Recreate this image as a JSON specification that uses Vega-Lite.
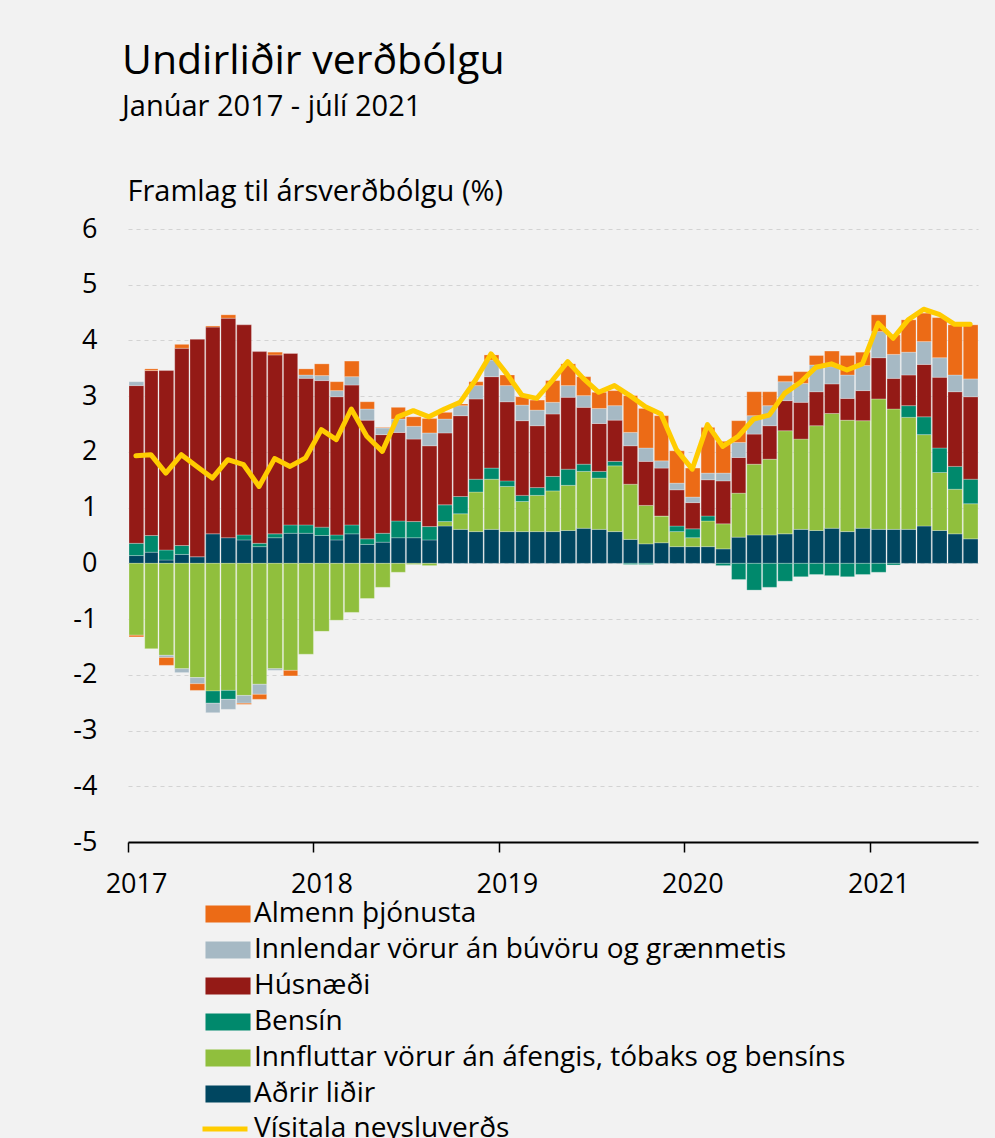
{
"$schema": "https://vega.github.io/schema/vega-lite/v6.json",
"autosize": "none",
"width": 850,
"height": 613,
"padding": {"left": 128, "top": 229, "right": 17, "bottom": 296},
"background": "#f2f2f2",
"config": {"font": "Open Sans", "view": {"stroke": null}},
"title": {"text": "Undirliðir verðbólgu", "subtitle": "Janúar 2017 - júlí 2021", "anchor": "start", "frame": "group", "dx": -6, "fontSize": 41, "fontWeight": "normal", "color": "#000000", "subtitleFontSize": 29, "subtitleColor": "#000000", "subtitlePadding": 10, "offset": 54, "font": "Open Sans", "subtitleFont": "Open Sans"},
"data": {"values": [
{"d":"2017-01-01","c1":0.14,"c2":-1.29,"c3":0.22,"c4":2.83,"c5":0.07,"c6":-0.03,"v":1.93},
{"d":"2017-02-01","c1":0.20,"c2":-1.53,"c3":0.30,"c4":2.96,"c5":0,"c6":0.03,"v":1.95},
{"d":"2017-03-01","c1":0.06,"c2":-1.65,"c3":0.18,"c4":3.22,"c5":-0.04,"c6":-0.14,"v":1.62},
{"d":"2017-04-01","c1":0.16,"c2":-1.89,"c3":0.16,"c4":3.54,"c5":-0.07,"c6":0.07,"v":1.95},
{"d":"2017-05-01","c1":0.12,"c2":-2.05,"c3":0,"c4":3.90,"c5":-0.11,"c6":-0.12,"v":1.74},
{"d":"2017-06-01","c1":0.53,"c2":-2.29,"c3":-0.22,"c4":3.71,"c5":-0.17,"c6":0.02,"v":1.53},
{"d":"2017-07-01","c1":0.46,"c2":-2.28,"c3":-0.16,"c4":3.94,"c5":-0.18,"c6":0.06,"v":1.86},
{"d":"2017-08-01","c1":0.42,"c2":-2.37,"c3":0.09,"c4":3.77,"c5":-0.14,"c6":-0.02,"v":1.77},
{"d":"2017-09-01","c1":0.30,"c2":-2.17,"c3":0.06,"c4":3.44,"c5":-0.18,"c6":-0.09,"v":1.38},
{"d":"2017-10-01","c1":0.46,"c2":-1.89,"c3":0.07,"c4":3.21,"c5":-0.03,"c6":0.05,"v":1.88},
{"d":"2017-11-01","c1":0.54,"c2":-1.92,"c3":0.15,"c4":3.08,"c5":0,"c6":-0.10,"v":1.74},
{"d":"2017-12-01","c1":0.54,"c2":-1.63,"c3":0.15,"c4":2.63,"c5":0.06,"c6":0.11,"v":1.89},
{"d":"2018-01-01","c1":0.50,"c2":-1.22,"c3":0.15,"c4":2.63,"c5":0.09,"c6":0.21,"v":2.40},
{"d":"2018-02-01","c1":0.42,"c2":-1.02,"c3":0.09,"c4":2.48,"c5":0.11,"c6":0.16,"v":2.22},
{"d":"2018-03-01","c1":0.53,"c2":-0.88,"c3":0.16,"c4":2.51,"c5":0.15,"c6":0.28,"v":2.77},
{"d":"2018-04-01","c1":0.34,"c2":-0.63,"c3":0.10,"c4":2.13,"c5":0.20,"c6":0.13,"v":2.28},
{"d":"2018-05-01","c1":0.38,"c2":-0.43,"c3":0.16,"c4":1.77,"c5":0.12,"c6":0.01,"v":2.01},
{"d":"2018-06-01","c1":0.46,"c2":-0.16,"c3":0.30,"c4":1.59,"c5":0.24,"c6":0.21,"v":2.63},
{"d":"2018-07-01","c1":0.46,"c2":-0.02,"c3":0.29,"c4":1.48,"c5":0.23,"c6":0.17,"v":2.74},
{"d":"2018-08-01","c1":0.42,"c2":-0.04,"c3":0.24,"c4":1.45,"c5":0.23,"c6":0.26,"v":2.63},
{"d":"2018-09-01","c1":0.67,"c2":0.08,"c3":0.30,"c4":1.29,"c5":0.25,"c6":0.12,"v":2.77},
{"d":"2018-10-01","c1":0.61,"c2":0.28,"c3":0.31,"c4":1.45,"c5":0.18,"c6":0.03,"v":2.89},
{"d":"2018-11-01","c1":0.57,"c2":0.71,"c3":0.23,"c4":1.44,"c5":0.24,"c6":0.07,"v":3.29},
{"d":"2018-12-01","c1":0.61,"c2":0.90,"c3":0.20,"c4":1.64,"c5":0.30,"c6":0.09,"v":3.76},
{"d":"2019-01-01","c1":0.57,"c2":0.81,"c3":0.10,"c4":1.42,"c5":0.29,"c6":0.19,"v":3.40},
{"d":"2019-02-01","c1":0.57,"c2":0.54,"c3":0.11,"c4":1.34,"c5":0.28,"c6":0.15,"v":3.02},
{"d":"2019-03-01","c1":0.57,"c2":0.65,"c3":0.14,"c4":1.11,"c5":0.28,"c6":0.18,"v":2.96},
{"d":"2019-04-01","c1":0.57,"c2":0.73,"c3":0.26,"c4":1.12,"c5":0.21,"c6":0.39,"v":3.28},
{"d":"2019-05-01","c1":0.59,"c2":0.81,"c3":0.29,"c4":1.29,"c5":0.21,"c6":0.39,"v":3.62},
{"d":"2019-06-01","c1":0.63,"c2":1.02,"c3":0.13,"c4":1.02,"c5":0.21,"c6":0.34,"v":3.32},
{"d":"2019-07-01","c1":0.61,"c2":0.92,"c3":0.12,"c4":0.86,"c5":0.27,"c6":0.29,"v":3.07},
{"d":"2019-08-01","c1":0.57,"c2":1.18,"c3":0.08,"c4":0.74,"c5":0.26,"c6":0.27,"v":3.19},
{"d":"2019-09-01","c1":0.43,"c2":0.99,"c3":-0.02,"c4":0.69,"c5":0.24,"c6":0.66,"v":3.01},
{"d":"2019-10-01","c1":0.35,"c2":0.69,"c3":-0.02,"c4":0.79,"c5":0.24,"c6":0.71,"v":2.81},
{"d":"2019-11-01","c1":0.37,"c2":0.48,"c3":0,"c4":0.86,"c5":0.13,"c6":0.81,"v":2.68},
{"d":"2019-12-01","c1":0.30,"c2":0.27,"c3":0.10,"c4":0.65,"c5":0.12,"c6":0.58,"v":2.04},
{"d":"2020-01-01","c1":0.30,"c2":0.16,"c3":0.16,"c4":0.47,"c5":0.10,"c6":0.52,"v":1.69},
{"d":"2020-02-01","c1":0.30,"c2":0.46,"c3":0.09,"c4":0.65,"c5":0.12,"c6":0.82,"v":2.49},
{"d":"2020-03-01","c1":0.26,"c2":0.45,"c3":-0.04,"c4":0.77,"c5":0.14,"c6":0.57,"v":2.10},
{"d":"2020-04-01","c1":0.47,"c2":0.79,"c3":-0.29,"c4":0.64,"c5":0.27,"c6":0.39,"v":2.28},
{"d":"2020-05-01","c1":0.51,"c2":1.27,"c3":-0.48,"c4":0.54,"c5":0.33,"c6":0.43,"v":2.59},
{"d":"2020-06-01","c1":0.51,"c2":1.36,"c3":-0.43,"c4":0.60,"c5":0.36,"c6":0.25,"v":2.66},
{"d":"2020-07-01","c1":0.53,"c2":1.85,"c3":-0.32,"c4":0.54,"c5":0.34,"c6":0.11,"v":3.05},
{"d":"2020-08-01","c1":0.61,"c2":1.62,"c3":-0.24,"c4":0.66,"c5":0.34,"c6":0.21,"v":3.25},
{"d":"2020-09-01","c1":0.59,"c2":1.88,"c3":-0.20,"c4":0.61,"c5":0.48,"c6":0.17,"v":3.52},
{"d":"2020-10-01","c1":0.63,"c2":2.06,"c3":-0.22,"c4":0.53,"c5":0.31,"c6":0.28,"v":3.58},
{"d":"2020-11-01","c1":0.57,"c2":2.00,"c3":-0.24,"c4":0.39,"c5":0.42,"c6":0.35,"v":3.47},
{"d":"2020-12-01","c1":0.63,"c2":1.93,"c3":-0.20,"c4":0.54,"c5":0.45,"c6":0.24,"v":3.58},
{"d":"2021-01-01","c1":0.61,"c2":2.34,"c3":-0.16,"c4":0.74,"c5":0.47,"c6":0.30,"v":4.31},
{"d":"2021-02-01","c1":0.61,"c2":2.16,"c3":-0.03,"c4":0.55,"c5":0.43,"c6":0.35,"v":4.04},
{"d":"2021-03-01","c1":0.61,"c2":2.01,"c3":0.21,"c4":0.55,"c5":0.41,"c6":0.58,"v":4.37},
{"d":"2021-04-01","c1":0.67,"c2":1.64,"c3":0.32,"c4":0.94,"c5":0.41,"c6":0.51,"v":4.56},
{"d":"2021-05-01","c1":0.59,"c2":1.04,"c3":0.44,"c4":1.27,"c5":0.35,"c6":0.72,"v":4.47},
{"d":"2021-06-01","c1":0.53,"c2":0.80,"c3":0.41,"c4":1.34,"c5":0.30,"c6":0.90,"v":4.29},
{"d":"2021-07-01","c1":0.44,"c2":0.63,"c3":0.44,"c4":1.48,"c5":0.32,"c6":0.97,"v":4.29}
]},
"layer": [
{
"transform": [{"fold": ["c1","c2","c3","c4","c5","c6"], "as": ["key","val"]}],
"mark": {"type": "bar", "timeUnitBandSize": 0.8, "stroke": "#ffffff", "strokeWidth": 0.5, "strokeOpacity": 0.5},
"encoding": {
"x": {"field": "d", "timeUnit": "utcyearmonth", "type": "temporal",
 "scale": {"domain": [{"year": 2017, "month": 1, "date": 1, "utc": true}, {"year": 2021, "month": 8, "date": 1, "utc": true}], "nice": false},
 "axis": {"title": null, "values": [{"year": 2017, "month": 1, "date": 1, "utc": true},{"year": 2018, "month": 1, "date": 1, "utc": true},{"year": 2019, "month": 1, "date": 1, "utc": true},{"year": 2020, "month": 1, "date": 1, "utc": true},{"year": 2021, "month": 1, "date": 1, "utc": true}],
  "labelExpr": "utcFormat(datum.value, '%Y')", "labelFlush": false, "labelOverlap": false, "grid": false, "domainColor": "#000000", "domainWidth": 2, "tickColor": "#000000", "tickWidth": 1.5, "tickSize": 10, "labelFontSize": 27, "labelColor": "#000000", "labelPadding": 19, "labelOffset": 8}},
"y": {"field": "val", "type": "quantitative", "stack": "zero",
 "scale": {"domain": [-5, 6], "nice": false, "zero": false},
 "axis": {"title": "Framlag til ársverðbólgu (%)", "titleAngle": 0, "titleAlign": "left", "titleBaseline": "alphabetic", "titleX": -1, "titleY": -29, "titleFontSize": 29, "titleFontWeight": "normal", "titleColor": "#000000",
  "values": [-5,-4,-3,-2,-1,0,1,2,3,4,5,6], "labelExpr": "datum.value < 0 ? '-' + abs(datum.value) : '' + datum.value", "domain": false, "ticks": false, "labelFontSize": 27, "labelColor": "#000000", "labelPadding": 31, "grid": true, "gridDash": [4,4], "gridColor": "#d3d3d3", "gridWidth": 1}},
"color": {"field": "key", "type": "nominal",
 "scale": {"domain": ["c6","c5","c4","c3","c2","c1"], "range": ["#EC6B16","#A6B9C4","#941A16","#00896C","#90BF3D","#004660"]},
 "legend": {"title": null, "orient": "none", "legendX": 86, "legendY": 671, "direction": "vertical",
  "labelExpr": "datum.value=='c6'?'Almenn þjónusta':datum.value=='c5'?'Innlendar vörur án búvöru og grænmetis':datum.value=='c4'?'Húsnæði':datum.value=='c3'?'Bensín':datum.value=='c2'?'Innfluttar vörur án áfengis, tóbaks og bensíns':'Aðrir liðir'",
  "labelFontSize": 28, "labelColor": "#000000", "symbolType": "M-2.65,-1H2.65V1H-2.65Z", "symbolSize": 289, "symbolStrokeWidth": 0, "symbolOpacity": 1, "labelOffset": 12, "rowPadding": 8, "labelLimit": 800}},
"order": {"field": "key", "sort": "ascending"}
}
},
{
"mark": {"type": "line", "strokeWidth": 5, "strokeCap": "round", "strokeJoin": "round"},
"encoding": {
"x": {"field": "d", "timeUnit": "utcyearmonth", "type": "temporal", "bandPosition": 0.5},
"y": {"field": "v", "type": "quantitative"},
"stroke": {"datum": "Vísitala neysluverðs", "type": "nominal", "scale": {"range": ["#FFCC00"]},
 "legend": {"title": null, "orient": "none", "legendX": 72, "legendY": 875, "symbolType": "stroke", "symbolSize": 2025, "symbolStrokeWidth": 5, "labelFontSize": 28, "labelColor": "#000000", "labelOffset": 4, "labelLimit": 800}}
}
}
]
}
